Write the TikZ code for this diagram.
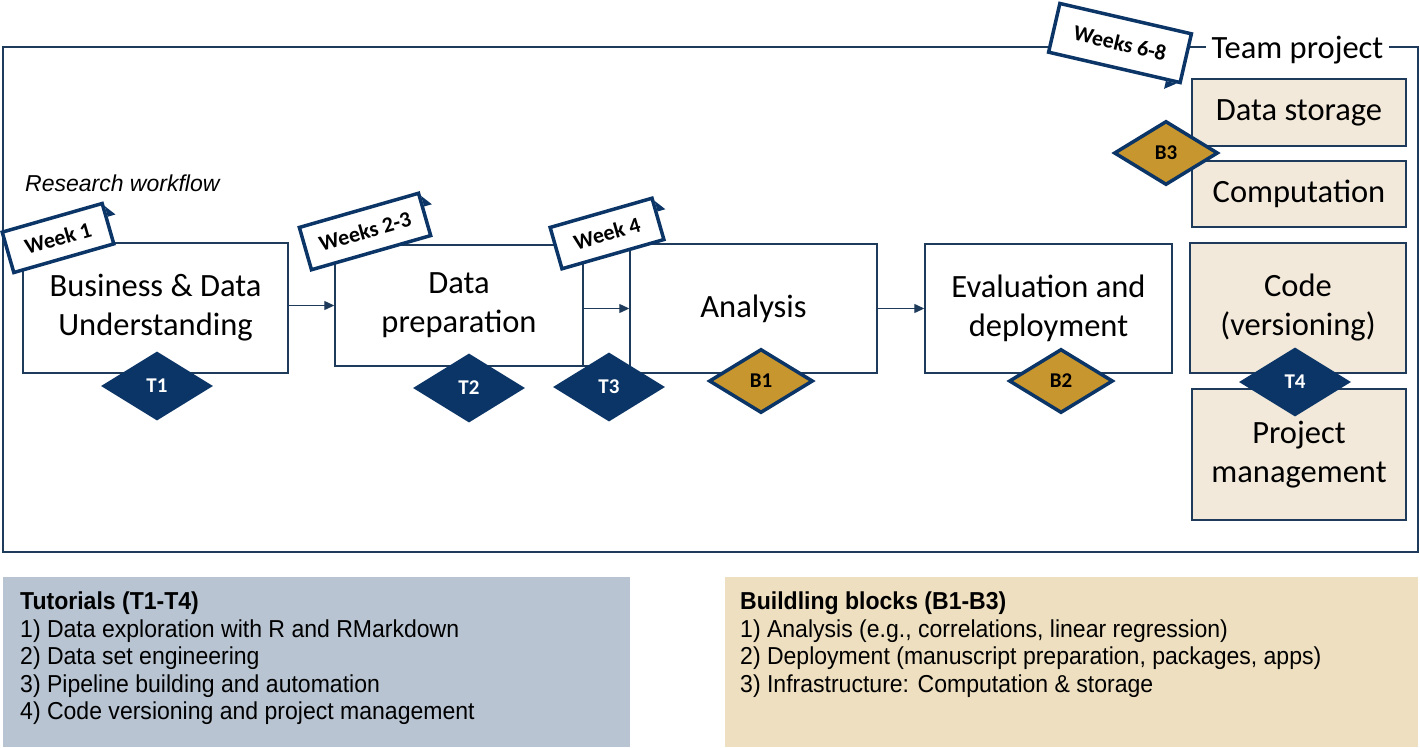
\documentclass[tikz,border=0pt]{standalone}
\usepackage{fontspec}
\setmainfont{Carlito}
\newfontfamily\arialf{Liberation Sans}
\newfontfamily\arialn{Liberation Sans}[FakeStretch=0.94]
\usetikzlibrary{shapes.geometric,arrows.meta,calc}
\definecolor{navy}{HTML}{0B3566}
\definecolor{lineblue}{HTML}{1F3B5C}
\definecolor{gold}{HTML}{C8962E}
\definecolor{beige}{HTML}{F2E9DA}
\definecolor{tutbg}{HTML}{B8C4D2}
\definecolor{bbbg}{HTML}{EEDFC0}
\tikzset{
 stage/.style={draw=lineblue, line width=1.4pt, fill=white, align=center, inner sep=0pt, font=\fontsize{32.5}{39}\selectfont},
 rbox/.style={stage, fill=beige},
 tdia/.style={diamond, fill=navy, text=white, inner sep=0pt, minimum width=112pt, minimum height=69pt, font=\bfseries\fontsize{21}{22}\selectfont},
 bdia/.style={diamond, fill=gold, draw=navy, line width=3.5pt, text=black, inner sep=0pt, minimum width=104pt, minimum height=64pt, font=\bfseries\fontsize{21}{22}\selectfont},
 wtag/.style={draw=navy, line width=3.5pt, fill=white, inner sep=0pt, font=\bfseries\fontsize{22}{24}\selectfont},
 arr/.style={draw=lineblue, line width=1.2pt, -{Triangle[length=10pt,width=9pt]}},
 legend/.style={anchor=north west, align=left, inner sep=0pt, font=\arialn\fontsize{24.5}{27.5}\selectfont}
}
\newcommand\tagfold[3]{%
 \fill[navy] ($(#1.#2)!5pt!(#1.#3)$) -- ($(#1.#2)!16pt!(#1.#3)$) -- ($($(#1.#2)!16pt!(#1.#3)$)!8pt!-90:($(#1.#2)!5pt!(#1.#3)$)$) -- cycle;}
\begin{document}
\begin{tikzpicture}[x=1pt,y=-1pt]
\useasboundingbox (0,0) rectangle (1420,747);
% frame
\draw[lineblue, line width=1.5pt] (3,47) rectangle (1418,552);
\node[fill=white, inner sep=6pt, anchor=base, font=\fontsize{32.5}{34}\selectfont] (tp) at (1297.5,58) {Team project};
\node[anchor=west, inner sep=0pt, font=\arialf\itshape\fontsize{23}{25}\selectfont] (rw) at (25,183) {Research workflow};
% stages
\node[stage, minimum width=265pt, minimum height=130pt] (b1) at (155.5,308) {Business \& Data\\Understanding};
\node[stage, minimum width=248pt, minimum height=121pt] (b2) at (459,305.5) {Data\\preparation};
\node[stage, minimum width=47pt, minimum height=121pt] (mid) at (606.5,305.5) {};
\node[stage, minimum width=247pt, minimum height=129pt] (an) at (753.5,308.5) {Analysis};
\node[stage, minimum width=247pt, minimum height=129pt] (ev) at (1048.5,308.5) {Evaluation and\\deployment};
% right boxes
\node[rbox, minimum width=214pt, minimum height=67pt] (ds) at (1299,112.5) {Data storage};
\node[rbox, minimum width=214pt, minimum height=66pt] (cp) at (1299,194) {Computation};
\node[rbox, minimum width=216pt, minimum height=130pt] (cv) at (1298,308) {Code\\(versioning)};
\node[rbox, minimum width=214pt, minimum height=131pt] (pm) at (1299,454.5) {Project\\management};
% arrows
\draw[arr] (b1.east |- b2.west) -- (b2.west);
\draw[arr] (mid.west |- an.west) -- (an.west);
\draw[arr] (an.east) -- (ev.west);
% diamonds
\node[tdia] (t1) at (157,386) {T1};
\node[tdia] (t2) at (469,388) {T2};
\node[tdia] (t3) at (609,387) {T3};
\node[bdia] (bb1) at (761,381) {B1};
\node[bdia] (bb2) at (1061,381) {B2};
\node[bdia] (bb3) at (1166,153) {B3};
\node[tdia] (t4) at (1295,382) {T4};
% week tags
\node[wtag, rotate=16, minimum width=104pt, minimum height=42pt] (w1) at (58,238) {Week 1};
\tagfold{w1}{north east}{south east}
\node[wtag, rotate=16, minimum width=124pt, minimum height=44pt] (w23) at (365,231.5) {Weeks 2-3};
\tagfold{w23}{north east}{south east}
\node[wtag, rotate=16, minimum width=106pt, minimum height=43pt] (w4) at (607,233.5) {Week 4};
\tagfold{w4}{north east}{south east}
\node[wtag, rotate=-13, minimum width=135pt, minimum height=50pt] (w68) at (1120,43) {Weeks 6-8};
\tagfold{w68}{south east}{south west}
% legends
\fill[tutbg] (3,577) rectangle (630,747);
\fill[bbbg] (725,577) rectangle (1418,747);
\node[legend] (tl) at (20,592) {\textbf{Tutorials (T1-T4)}\\1) Data exploration with R and RMarkdown\\2) Data set engineering\\3) Pipeline building and automation\\4) Code versioning and project management};
\node[legend] (bl) at (740,592) {\textbf{Buildling blocks (B1-B3)}\\1) Analysis (e.g., correlations, linear regression)\\2) Deployment (manuscript preparation, packages, apps)\\3) Infrastructure: Computation \& storage};
\end{tikzpicture}
\end{document}
